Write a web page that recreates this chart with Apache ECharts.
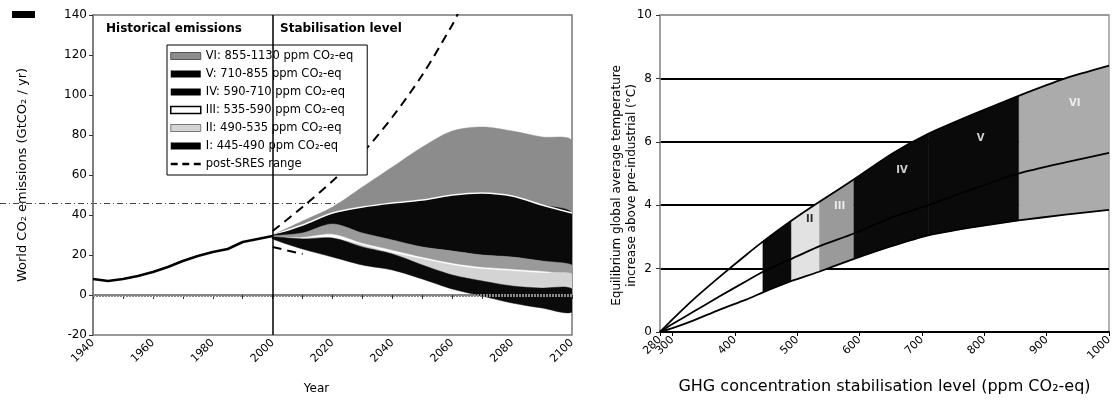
<!DOCTYPE html>
<html>
<head>
<meta charset="utf-8">
<script src="https://cdn.jsdelivr.net/npm/echarts@6/dist/echarts.min.js"></script>
<style>
  html, body { margin: 0; padding: 0; background: #fff; }
  #main { width: 1115px; height: 401px; }
</style>
</head>
<body>
<div id="main"></div>
<script>
// left panel: emissions
var histYears = [1940, 1945, 1950, 1955, 1960, 1965, 1970, 1975, 1980, 1985, 1990, 1995, 2000];
var histEmis = [8, 7, 8, 9.5, 11.5, 14, 17, 19.5, 21.5, 23, 26.5, 28, 29.5];

var sresYears = [2000, 2010, 2020, 2030, 2040, 2050, 2060, 2062];
var sresHigh = [32, 44, 57, 71, 89, 110, 135, 141];
var sresLowYears = [2000, 2010];
var sresLow = [24, 20.5];

var futYears = [2000, 2010, 2020, 2030, 2040, 2050, 2060, 2070, 2080, 2090, 2100];
var viLow = [30, 33, 36, 39, 42, 45, 47, 48, 47, 44, 41];
var viHigh = [30, 37, 44, 54, 64, 74, 82, 84, 82, 79, 77];
var vLow = [29.5, 31, 33, 33, 32, 30, 28, 26, 25, 24, 23];
var vHigh = [30, 35, 41, 44, 46, 47.5, 50, 51, 49.5, 45, 41];
var ivLow = [29, 30, 33, 29, 27, 24, 22, 20, 19, 17, 15];
var ivHigh = [30, 33, 36, 38, 38, 36, 34, 32, 30, 28, 26];
var iiiLow = [29, 29, 30.5, 26, 22.5, 19, 16, 14, 13, 12, 11];
var iiiHigh = [29.5, 31, 35.5, 31, 27.5, 24, 22, 20, 19, 17, 15];
var iiLow = [28.5, 27, 26, 21, 14, 9, 6, 5, 4.5, 4, 3.5];
var iiHigh = [29, 28.5, 28.5, 25, 21, 18, 15, 13, 12, 11, 10.5];
var iLow = [28, 23, 19, 15, 12.5, 8, 3, -0.5, -4, -6.5, -8.5];
var iHigh = [29, 28, 28.5, 24, 20.5, 15, 10, 7, 4.5, 3.5, 3];

var catNames = [
  'VI: 855-1130 ppm CO₂-eq',
  'V: 710-855 ppm CO₂-eq',
  'IV: 590-710 ppm CO₂-eq',
  'III: 535-590 ppm CO₂-eq',
  'II: 490-535 ppm CO₂-eq',
  'I: 445-490 ppm CO₂-eq'
];
var sresName = 'post-SRES range';

// right panel: temperature
var ppm = [280, 300, 332, 375, 418, 445, 490, 535, 590, 650, 710, 780, 855, 930, 1000];
var tempUpper = [0, 0.4, 1.0, 1.73, 2.43, 2.85, 3.5, 4.1, 4.8, 5.6, 6.25, 6.85, 7.45, 8.0, 8.4];
var tempMiddle = [0, 0.25, 0.62, 1.12, 1.6, 1.9, 2.3, 2.7, 3.1, 3.6, 4.0, 4.5, 5.0, 5.35, 5.65];
var tempLower = [0, 0.12, 0.35, 0.7, 1.02, 1.25, 1.6, 1.9, 2.3, 2.7, 3.05, 3.3, 3.52, 3.7, 3.85];
var catRanges = [[855, 1000], [710, 855], [590, 710], [535, 590], [490, 535], [445, 490]];
var ppmTicks = [280, 400, 500, 600, 700, 800, 900, 1000];
var ppmTicksExtra = [300];
var bandLabels = [['II', 520, 3.55], ['III', 568, 3.95], ['IV', 668, 5.1], ['V', 794, 6.1], ['VI', 945, 7.2]];

var leftColors = ['#8c8c8c', '#0a0a0a', '#0a0a0a', '#9a9a9a', '#d4d4d4', '#0a0a0a'];
var rightColors = ['#ababab', '#0a0a0a', '#0a0a0a', '#9a9a9a', '#e2e2e2', '#0a0a0a'];

var fontFam = 'DejaVu Sans';

// band between two curves, drawn as one polygon through the axes' scales
function band(name, xs, low, high, color, g, edge, smooth) {
  return {
    type: 'custom', name: name, xAxisIndex: g, yAxisIndex: g,
    silent: true, clip: true, z: 2,
    itemStyle: { color: color },
    data: xs.map(function (x, i) { return [x, low[i], high[i]]; }),
    encode: { x: 0, y: [1, 2] },
    renderItem: function (params, api) {
      if (params.dataIndex !== 0) return;
      var top = [], bot = [];
      for (var i = 0; i < xs.length; i++) {
        top.push(api.coord([xs[i], high[i]]));
        bot.unshift(api.coord([xs[i], low[i]]));
      }
      var children = [{
        type: 'polygon', shape: { points: top.concat(bot), smooth: smooth },
        style: { fill: color, stroke: color, lineWidth: 0.5 }
      }];
      if (edge) {
        children.push({
          type: 'polyline', shape: { points: top, smooth: smooth },
          style: { fill: null, stroke: edge, lineWidth: 1.5 }
        });
      }
      return { type: 'group', children: children };
    }
  };
}

function pairs(xs, ys) {
  return xs.map(function (x, i) { return [x, ys[i]]; });
}

var series = [];

// zero line under the bands
series.push({
  type: 'line', xAxisIndex: 0, yAxisIndex: 0, data: [], z: 1,
  markLine: {
    silent: true, symbol: 'none', label: { show: false },
    lineStyle: { color: '#888', width: 3, type: [2, 1] },
    data: [{ yAxis: 0 }]
  }
});

var leftLows = [viLow, vLow, ivLow, iiiLow, iiLow, iLow];
var leftHighs = [viHigh, vHigh, ivHigh, iiiHigh, iiHigh, iHigh];
var leftEdges = [null, '#fff', null, null, null, null];
for (var k = 0; k < 6; k++) {
  series.push(band(catNames[k], futYears, leftLows[k], leftHighs[k], leftColors[k], 0, leftEdges[k], 0.3));
}

series.push({
  type: 'line', name: 'Historical', xAxisIndex: 0, yAxisIndex: 0,
  data: pairs(histYears, histEmis), symbol: 'none', z: 3,
  lineStyle: { color: '#000', width: 2.5 }
});
series.push({
  type: 'line', name: sresName, xAxisIndex: 0, yAxisIndex: 0,
  data: pairs(sresYears, sresHigh), symbol: 'none', smooth: 0.3, z: 3,
  itemStyle: { color: '#000' },
  lineStyle: { color: '#000', width: 2, type: [9, 6] }
});
series.push({
  type: 'line', name: sresName, xAxisIndex: 0, yAxisIndex: 0,
  data: pairs(sresLowYears, sresLow), symbol: 'none', z: 1,
  itemStyle: { color: '#000' },
  lineStyle: { color: '#000', width: 2, type: [9, 6] }
});
series.push({
  type: 'line', xAxisIndex: 0, yAxisIndex: 0, data: [], z: 5,
  markLine: {
    silent: true, symbol: 'none', label: { show: false },
    lineStyle: { color: '#000', width: 1.5, type: 'solid' },
    data: [{ xAxis: 2000 }]
  }
});

// right panel bands
catRanges.forEach(function (r, j) {
  var xs = [], lo = [], hi = [];
  ppm.forEach(function (p, i) {
    if (p >= r[0] && p <= r[1]) { xs.push(p); lo.push(tempLower[i]); hi.push(tempUpper[i]); }
  });
  series.push(band(catNames[j], xs, lo, hi, rightColors[j], 1, null, false));
});
[tempUpper, tempMiddle, tempLower].forEach(function (t) {
  series.push({
    type: 'line', xAxisIndex: 1, yAxisIndex: 1, data: pairs(ppm, t),
    symbol: 'none', z: 4, silent: true, smooth: 0.2,
    lineStyle: { color: '#000', width: 1.8 }
  });
});
series.push({
  type: 'scatter', xAxisIndex: 1, yAxisIndex: 1, symbolSize: 0, z: 6, silent: true,
  data: bandLabels.map(function (b) {
    return { name: b[0], value: [b[1], b[2]], label: { color: b[0] === 'II' ? '#000' : '#fff' } };
  }),
  label: { show: true, position: 'inside', formatter: '{b}', fontSize: 10, fontWeight: 'bold', fontFamily: fontFam }
});

var option = {
  animation: false,
  textStyle: { fontFamily: fontFam, color: '#000' },
  grid: [
    { left: 93, right: 543, top: 15, bottom: 66, show: true, borderColor: '#777', borderWidth: 1.5 },
    { left: 660, right: 0, top: 15, bottom: 69, show: true, borderColor: '#999', borderWidth: 1.5 }
  ],
  legend: {
    orient: 'vertical', left: 167, top: 45,
    itemWidth: 30, itemHeight: 7, itemGap: 6,
    borderColor: '#000', borderWidth: 1, backgroundColor: '#fff',
    padding: [5, 14, 5, 3], selectedMode: false,
    textStyle: { fontSize: 11.5, color: '#000', fontFamily: fontFam },
    data: [
      { name: catNames[0], icon: 'rect', itemStyle: { color: '#8c8c8c', borderColor: '#555', borderWidth: 1 } },
      { name: catNames[1], icon: 'rect', itemStyle: { color: '#000' } },
      { name: catNames[2], icon: 'rect', itemStyle: { color: '#000' } },
      { name: catNames[3], icon: 'rect', itemStyle: { color: '#fff', borderColor: '#000', borderWidth: 1.5 } },
      { name: catNames[4], icon: 'rect', itemStyle: { color: '#d4d4d4', borderColor: '#777', borderWidth: 1 } },
      { name: catNames[5], icon: 'rect', itemStyle: { color: '#000' } },
      { name: sresName, icon: 'path://M0 0H6V2H0Z M10 0H16V2H10Z M20 0H26V2H20Z', itemStyle: { color: '#000' } }
    ]
  },
  xAxis: [{
    gridIndex: 0, type: 'value', min: 1940, max: 2100, interval: 10,
    name: 'Year', nameLocation: 'middle', nameGap: 48,
    nameTextStyle: { fontSize: 12, padding: [0, 32, 0, 0] },
    axisLine: { lineStyle: { color: '#555', width: 1.5 } },
    axisTick: { lineStyle: { color: '#333' }, length: 4 },
    axisLabel: {
      rotate: 45, fontSize: 11, color: '#000', margin: 6,
      formatter: function (v) { return v % 20 === 0 ? String(v) : ''; }
    },
    splitLine: { show: false }
  }, {
    gridIndex: 1, type: 'value', min: 280, max: 1000, position: 'bottom',
    name: 'GHG concentration stabilisation level (ppm CO₂-eq)', nameLocation: 'middle', nameGap: 47,
    nameTextStyle: { fontSize: 16 },
    axisLine: { lineStyle: { color: '#000', width: 2 } },
    axisTick: { customValues: ppmTicks, lineStyle: { color: '#000' }, length: 4 },
    axisLabel: {
      customValues: ppmTicks, interval: 0, rotate: 45, fontSize: 11, color: '#000', margin: 6,
      showMinLabel: true, showMaxLabel: true, hideOverlap: false,
      formatter: function (v) { return String(v); }
    },
    splitLine: { show: false }
  }, {
    gridIndex: 1, type: 'value', min: 280, max: 1000, position: 'bottom', offset: 0,
    axisLine: { show: false },
    axisTick: { customValues: ppmTicksExtra, lineStyle: { color: '#000' }, length: 4 },
    axisLabel: {
      customValues: ppmTicksExtra, rotate: 45, fontSize: 11, color: '#000', margin: 6,
      formatter: function (v) { return String(v); }
    },
    splitLine: { show: false }
  }],
  yAxis: [{
    gridIndex: 0, type: 'value', min: -20, max: 140, interval: 20,
    name: 'World CO₂ emissions (GtCO₂ / yr)', nameLocation: 'middle', nameGap: 64,
    nameTextStyle: { fontSize: 13 },
    axisLine: { show: true, lineStyle: { color: '#777', width: 1.5 } },
    axisTick: { lineStyle: { color: '#333' }, length: 4 },
    axisLabel: { fontSize: 12, color: '#000', margin: 6 },
    splitLine: { show: false }
  }, {
    gridIndex: 1, type: 'value', min: 0, max: 10, interval: 2,
    name: 'Equilibrium global average temperature\nincrease above pre-industrial (°C)',
    nameLocation: 'middle', nameGap: 21, nameMoveOverlap: false,
    nameTextStyle: { fontSize: 12, lineHeight: 15, padding: [0, 24, 0, 0] },
    axisLine: { show: true, lineStyle: { color: '#999', width: 1.5 } },
    axisTick: { lineStyle: { color: '#333' }, length: 4 },
    axisLabel: { fontSize: 12, color: '#000', margin: 8 },
    splitLine: { show: true, lineStyle: { color: ['#000', '#000', '#000', '#000', '#000', '#999'], width: 2 } }
  }],
  graphic: [
    { type: 'rect', left: 12, top: 11, z: 10, shape: { width: 23, height: 7 }, style: { fill: '#000' } },
    { type: 'line', z: 0, shape: { x1: 0, y1: 203.5, x2: 560, y2: 203.5 }, style: { stroke: '#444', lineWidth: 1, lineDash: [6, 3, 1, 3] } },
    { type: 'text', left: 106, top: 23, z: 10, style: { text: 'Historical emissions', font: 'bold 12px DejaVu Sans', fill: '#000' } },
    { type: 'text', left: 280, top: 23, z: 10, style: { text: 'Stabilisation level', font: 'bold 12px DejaVu Sans', fill: '#000' } }
  ],
  series: series
};

var myChart = echarts.init(document.getElementById('main'));
myChart.setOption(option);
window.addEventListener('resize', function () {
  myChart.resize();
});
</script>
</body>
</html>
